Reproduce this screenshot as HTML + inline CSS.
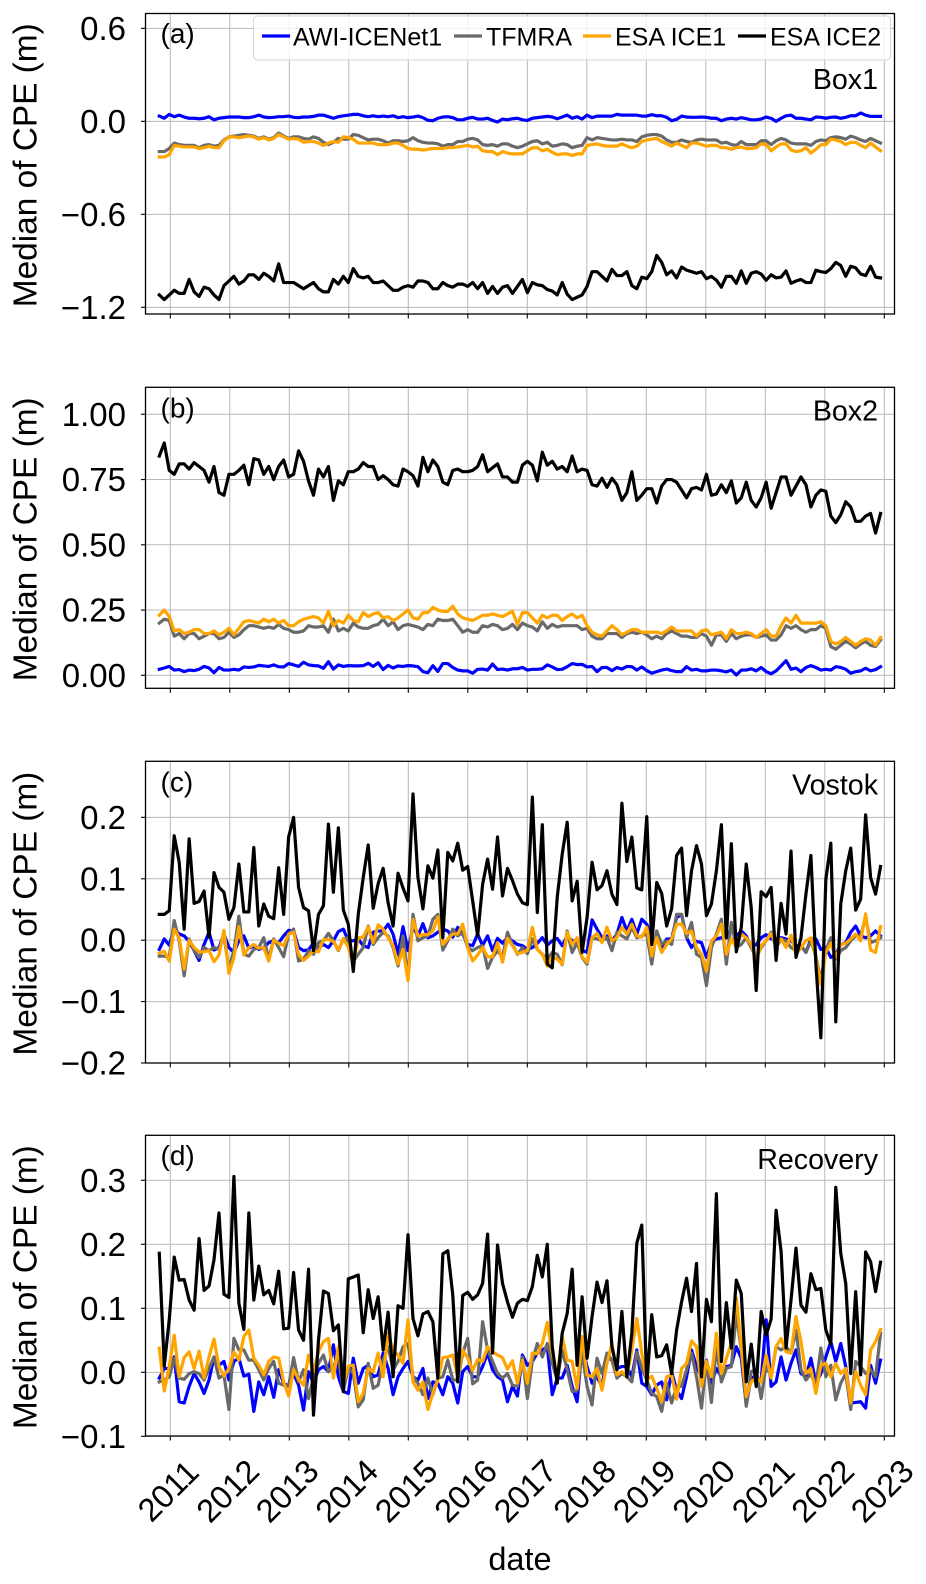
<!DOCTYPE html>
<html lang="en">
<head>
<meta charset="utf-8">
<title>Median of CPE time series</title>
<style>
html,body{margin:0;padding:0;background:#fff;}
svg{display:block;font-family:"Liberation Sans",Arial,sans-serif;}
</style>
</head>
<body>
<svg id="chart" xmlns="http://www.w3.org/2000/svg" width="926" height="1584" viewBox="0 0 926 1584">
<rect x="0" y="0" width="926" height="1584" fill="#fff"/>
<text x="520" y="1570" font-size="32.5" text-anchor="middle" fill="#000">date</text>
</svg>
<script>
const xTickYears = [2011,2012,2013,2014,2015,2016,2017,2018,2019,2020,2021,2022,2023];
const xTickLabels = ['2011','2012','2013','2014','2015','2016','2017','2018','2019','2020','2021','2022','2023'];
const firstSampleYear = 2010.815;
const sampleStepYears = 0.0836;
const seriesNames = ['AWI-ICENet1','TFMRA','ESA ICE1','ESA ICE2'];

const yTicksA = [0.6,0,-0.6,-1.2];
const yLabelsA = ['0.6','0.0','\u22120.6','\u22121.2'];
const yTicksB = [1,0.75,0.5,0.25,0];
const yLabelsB = ['1.00','0.75','0.50','0.25','0.00'];
const yTicksC = [0.2,0.1,0,-0.1,-0.2];
const yLabelsC = ['0.2','0.1','0.0','\u22120.1','\u22120.2'];
const yTicksD = [0.3,0.2,0.1,0,-0.1];
const yLabelsD = ['0.3','0.2','0.1','0.0','\u22120.1'];

const box1Awi = [
.034,.02,.045,.03,.04,.028,.02,.02,.017,.02,
.03,.01,.02,.024,.028,.028,.028,.024,.024,.03,
.04,.028,.024,.026,.03,.03,.034,.026,.024,.028,
.028,.032,.04,.04,.03,.02,.03,.036,.04,.045,
.045,.036,.03,.036,.03,.034,.03,.036,.024,.03,
.024,.028,.034,.024,.007,.004,.02,.028,.03,.024,.01,
.01,.02,.026,.015,.015,.02,.006,-.004,.015,.01,
.017,.02,.01,.006,.02,.024,.028,.032,.028,.017,
.028,.04,.02,.03,.015,.04,.024,.034,.034,.034,
.034,.045,.04,.04,.04,.04,.034,.034,.043,.036,
.036,.026,.004,.013,.034,.028,.026,.026,.028,.026,
.02,.02,.004,.015,.02,.015,.024,.017,.01,.01,
.015,.028,.02,0,.02,.036,.04,.02,.02,.015,
.01,.028,.026,.02,.026,.028,.02,.026,.036,.036,
.054,.04,.032,.032,.032];
const box1Tfmra = [
-.195,-.195,-.175,-.14,-.15,-.155,-.155,-.155,-.17,-.155,
-.15,-.16,-.155,-.12,-.10,-.095,-.09,-.085,-.09,-.095,
-.11,-.10,-.115,-.105,-.075,-.095,-.11,-.10,-.10,-.11,
-.115,-.10,-.11,-.135,-.15,-.135,-.11,-.115,-.115,-.085,
-.09,-.105,-.12,-.115,-.115,-.125,-.14,-.125,-.125,-.13,
-.125,-.105,-.125,-.135,-.14,-.14,-.145,-.16,-.15,-.15,-.13,
-.13,-.115,-.11,-.12,-.15,-.155,-.15,-.16,-.145,-.145,
-.16,-.17,-.16,-.145,-.13,-.125,-.145,-.135,-.16,-.155,
-.145,-.15,-.17,-.16,-.155,-.105,-.12,-.105,-.11,-.115,
-.12,-.12,-.115,-.12,-.12,-.13,-.10,-.09,-.085,-.085,
-.095,-.12,-.135,-.135,-.12,-.13,-.135,-.12,-.115,-.12,
-.12,-.12,-.14,-.135,-.15,-.155,-.13,-.15,-.15,-.15,
-.125,-.125,-.15,-.125,-.11,-.12,-.14,-.145,-.145,-.145,
-.155,-.13,-.12,-.125,-.105,-.10,-.105,-.115,-.095,-.105,
-.12,-.13,-.11,-.125,-.14];
const box1Ice1 = [
-.23,-.23,-.215,-.155,-.16,-.165,-.165,-.165,-.175,-.17,
-.16,-.17,-.17,-.125,-.10,-.10,-.105,-.10,-.095,-.10,
-.115,-.105,-.12,-.11,-.085,-.10,-.115,-.11,-.115,-.135,
-.13,-.13,-.14,-.155,-.14,-.13,-.135,-.10,-.105,-.115,
-.14,-.14,-.14,-.14,-.15,-.15,-.15,-.14,-.14,-.155,
-.175,-.18,-.18,-.185,-.18,-.175,-.175,-.175,-.17,-.17,-.165,
-.16,-.155,-.165,-.16,-.19,-.195,-.195,-.215,-.195,-.205,
-.21,-.21,-.21,-.19,-.17,-.17,-.19,-.18,-.20,-.215,
-.21,-.21,-.22,-.21,-.21,-.155,-.15,-.145,-.155,-.16,
-.16,-.16,-.145,-.16,-.17,-.16,-.13,-.12,-.115,-.11,
-.13,-.145,-.16,-.14,-.155,-.17,-.14,-.14,-.15,-.16,
-.155,-.155,-.17,-.17,-.18,-.17,-.165,-.175,-.175,-.17,
-.145,-.15,-.19,-.165,-.145,-.145,-.185,-.195,-.19,-.17,
-.205,-.18,-.15,-.15,-.115,-.12,-.13,-.15,-.135,-.135,
-.155,-.17,-.14,-.165,-.19];
const box1Ice2 = [
-1.12,-1.15,-1.12,-1.09,-1.11,-1.11,-1.02,-1.10,-1.13,-1.07,
-1.08,-1.12,-1.15,-1.06,-1.03,-1.00,-1.05,-1.03,-.99,-.99,
-1.02,-.98,-1.00,-1.03,-.92,-1.04,-1.04,-1.04,-1.06,-1.08,
-1.06,-1.04,-1.08,-1.10,-1.10,-1.02,-1.05,-1.00,-1.04,-.95,
-1.00,-1.01,-1.00,-1.04,-1.04,-1.03,-1.06,-1.09,-1.09,-1.07,
-1.06,-1.07,-1.03,-1.03,-1.04,-1.08,-1.08,-1.04,-1.06,-1.07,-1.05,
-1.05,-1.065,-1.04,-1.08,-1.04,-1.11,-1.065,-1.11,-1.07,-1.06,
-1.11,-1.065,-1.02,-1.105,-1.04,-1.055,-1.06,-1.085,-1.095,-1.12,
-1.04,-1.115,-1.15,-1.135,-1.12,-1.065,-.97,-.97,-1.0,-1.03,
-.955,-.995,-.995,-.97,-1.06,-1.08,-1.005,-1.015,-.97,-.865,
-.91,-.99,-.965,-1.01,-.94,-.96,-.97,-.98,-.97,-1.015,
-1.0,-1.025,-1.07,-1.0,-1.0,-1.045,-.965,-1.045,-.98,-.97,
-.985,-1.025,-.99,-1.01,-1.005,-.965,-1.045,-1.03,-1.02,-1.04,
-1.04,-.96,-.97,-.975,-.95,-.91,-.93,-1.0,-.935,-.945,
-.985,-.995,-.935,-1.005,-1.01];

const box2Awi = [
.023,.028,.034,.02,.022,.014,.02,.018,.023,.034,
.028,.01,.03,.02,.02,.023,.02,.032,.03,.032,
.038,.036,.034,.04,.033,.032,.045,.04,.034,.05,
.04,.037,.036,.027,.052,.024,.04,.034,.037,.036,
.036,.037,.046,.034,.048,.022,.038,.028,.036,.034,
.037,.036,.033,.014,.01,.037,.015,.045,.045,.03,
.02,.017,.017,.008,.023,.024,.02,.043,.022,.024,
.02,.025,.025,.03,.02,.023,.023,.025,.04,.032,
.022,.023,.033,.045,.041,.042,.032,.034,.014,.03,
.03,.018,.03,.024,.034,.033,.02,.032,.018,.008,
.014,.02,.024,.018,.014,.014,.033,.02,.023,.017,
.017,.02,.02,.017,.013,.02,.001,.02,.02,.025,
.017,.03,.014,.006,.017,.036,.056,.023,.028,.014,
.03,.037,.03,.02,.023,.02,.033,.03,.023,.008,
.014,.017,.027,.017,.022,.033];
const box2Tfmra = [
.20,.215,.21,.15,.16,.14,.16,.16,.14,.15,
.16,.16,.14,.145,.165,.145,.155,.175,.19,.19,
.185,.18,.185,.18,.195,.18,.175,.165,.165,.17,
.19,.185,.185,.19,.165,.215,.17,.18,.17,.20,
.185,.18,.18,.19,.195,.215,.19,.205,.175,.19,
.195,.19,.185,.175,.195,.19,.215,.21,.21,.215,
.19,.165,.175,.165,.165,.19,.185,.195,.19,.175,
.18,.195,.175,.20,.19,
.185,.17,.205,.18,.195,.185,.19,.19,.19,.19,.175,
.18,.15,.14,.14,.16,.16,.16,.145,.16,.165,
.16,.165,.155,.14,.15,.14,.16,.17,.16,.15,
.15,.145,.145,.16,.15,.115,.155,.155,.13,.16,
.14,.15,.155,.155,.145,.15,.155,.135,.135,.155,
.19,.18,.19,.175,.165,.175,.175,.19,.18,.11,
.10,.115,.13,.12,.105,.12,.13,.115,.11,.135];
const box2Ice1 = [
.23,.25,.225,.17,.175,.16,.165,.175,.175,.16,
.16,.17,.155,.165,.18,.155,.18,.205,.21,.205,
.20,.215,.205,.215,.20,.21,.19,.19,.205,.215,
.22,.225,.22,.20,.245,.19,.21,.20,.23,.21,
.205,.24,.225,.235,.24,.22,.225,.21,.22,.235,
.25,.22,.215,.24,.24,.26,.25,.245,.245,.265,
.235,.22,.215,.21,.22,.23,.23,.235,.23,.225,
.235,.245,.195,.24,.24,.22,.20,.23,.22,.23,
.23,.21,.225,.235,.22,.23,.19,.165,.155,.15,
.17,.19,.175,.155,.165,.175,.175,.165,.165,.165,
.165,.16,.17,.185,.17,.17,.17,.17,.15,.17,
.175,.155,.16,.165,.14,.175,.16,.16,.165,.16,
.145,.16,.175,.15,.15,.19,.22,.20,.23,.20,
.20,.20,.20,.205,.19,.13,.12,.13,.145,.13,
.115,.13,.14,.135,.115,.145];
const box2Ice2 = [
.84,.89,.785,.77,.81,.81,.79,.815,.80,.785,
.74,.80,.70,.69,.77,.77,.785,.805,.73,.83,
.825,.77,.80,.75,.80,.825,.76,.77,.86,.82,
.745,.69,.79,.76,.80,.67,.745,.73,.78,.78,
.79,.815,.80,.80,.75,.765,.75,.73,.725,.79,
.78,.765,.725,.835,.78,.825,.80,.74,.73,.785,
.79,.78,.78,.785,.80,.845,.78,.795,.81,.76,
.76,.74,.74,.805,.82,
.805,.745,.855,.805,.82,.79,.80,.78,.84,.78,
.79,.785,.73,.725,.755,.72,.755,.73,.67,.70,
.78,.67,.69,.715,.715,.66,.725,.75,.75,.74,
.71,.68,.715,.72,.71,.77,.69,.695,.73,.70,
.745,.66,.68,.74,.67,.645,.68,.74,.64,.70,
.76,.76,.69,.725,.76,.73,.645,.69,.71,.705,
.61,.585,.615,.665,.645,.59,.59,.61,.62,.545,.62];

const vostokAwi = [
-.015,.002,-.008,.018,.01,.007,-.002,-.017,-.033,-.007,
.013,-.016,-.012,.01,-.012,-.02,-.001,.007,-.013,-.009,
-.015,-.012,-.004,-.001,-.004,.007,.016,.015,-.012,-.017,
-.016,-.004,-.012,-.007,-.012,-.001,.014,.018,-.001,-.001,
.002,-.009,-.012,.013,.015,.015,.026,.01,-.023,.022,
-.017,.021,.007,.027,.004,.007,.013,.018,.015,.005,
.021,.01,-.007,-.009,.01,-.009,.007,-.017,.003,-.005,
.004,-.001,-.007,-.009,-.015,
-.012,-.005,.004,-.008,-.001,.003,-.009,.007,-.001,-.001,
-.016,-.02,.033,.018,.004,.007,-.001,.01,.037,.015,
.034,.01,.034,.026,.004,-.001,-.012,.002,.002,.037,
.042,.004,-.012,-.002,-.004,-.028,-.004,.002,.004,.004,
.018,.007,.015,.007,-.012,-.007,.004,.009,.002,.002,
.004,.002,-.001,-.009,-.009,-.02,.002,.002,-.015,-.012,
-.028,-.023,-.007,-.004,.013,.023,.007,.004,.007,.015,.007];
const vostokTfmra = [
-.026,-.026,-.028,.032,-.001,-.058,.002,-.017,-.028,-.012,
-.017,-.012,-.015,.007,-.047,-.017,.039,-.023,-.026,-.015,
-.012,.004,-.031,.002,-.012,-.027,.01,.018,-.034,-.031,
-.017,-.023,-.004,-.001,.011,-.001,-.017,.002,.004,-.034,
-.023,-.012,.023,-.007,.004,.013,.007,-.012,-.042,.007,
-.061,.042,-.001,.004,.007,.034,.042,-.016,-.001,.018,
.007,.013,-.012,-.017,-.012,-.009,-.046,-.028,-.017,-.028,
.013,-.007,-.023,-.012,-.022,
.002,-.015,-.023,-.031,-.02,-.023,-.04,.015,-.02,-.004,
-.028,-.039,.004,.002,-.001,.004,-.017,.013,.007,.002,
.021,.004,.007,.01,-.039,.015,-.007,-.001,-.007,.042,
.042,.004,.029,-.023,-.028,-.074,-.012,.01,.034,-.039,
.029,-.012,-.007,.004,-.012,-.028,-.012,-.001,.013,-.012,
.002,-.001,-.012,-.017,-.009,-.02,-.001,-.026,-.066,-.017,
.004,-.031,-.017,-.012,-.001,.007,.007,.037,-.004,-.001,.004];
const vostokIce1 = [
-.021,-.018,-.034,.018,.004,-.047,0,-.012,-.019,-.019,
-.017,-.035,-.024,.016,-.054,-.028,.022,-.024,-.012,-.007,
-.013,-.012,-.034,0,-.005,-.009,.01,.013,-.023,-.033,
-.026,-.017,-.019,.001,.001,-.002,-.016,.003,-.012,-.039,
.004,.005,.022,-.004,.025,.018,.004,-.009,-.039,-.015,
-.066,.034,.007,.009,.009,.015,.038,-.007,.002,.01,
.01,.026,-.012,-.034,-.024,-.012,-.027,-.027,-.004,-.036,
.003,-.009,-.022,-.02,-.017,
.021,-.015,-.023,-.042,-.027,-.031,-.039,.013,-.007,.004,
-.027,-.036,.004,.011,-.004,.021,-.001,.004,.021,.01,
.026,.007,.005,.021,-.026,.004,-.02,-.007,.002,.026,
.026,.011,.015,-.012,-.023,-.05,-.001,.007,.026,-.023,
.002,-.012,.01,.004,-.007,-.031,-.009,-.001,.011,-.007,
.002,-.012,.008,-.023,-.012,-.001,.004,-.028,-.072,-.02,
-.005,-.028,-.007,-.005,.002,.01,-.001,.043,-.016,-.02,.022];
const vostokIce2 = [
.042,.042,.048,.17,.127,.018,.165,.06,.063,.08,
.005,.11,.086,.078,.034,.053,.124,.046,.046,.151,
.023,.059,.039,.035,.118,.042,.168,.20,.086,.053,
.048,-.017,.042,.056,.189,.078,.183,.049,.026,-.051,
.042,.102,.155,.052,.092,.117,.061,.023,.109,.085,
.064,.238,.102,.051,.121,.101,.147,.004,.143,.129,
.158,.114,.12,.064,.007,.091,.132,.083,.168,.072,
.117,.097,.075,.061,.058,
.233,.045,.188,-.039,-.045,
.07,.14,.192,.064,.096,-.02,.037,.127,.082,.089,
.113,.075,.058,.223,.128,.168,.085,.082,.201,-.007,
.094,.076,.023,.051,.138,.15,.04,.113,.154,.124,
.04,.059,.113,.188,.004,.157,-.019,.021,.124,.053,
-.082,.079,.071,.086,-.033,.06,.01,.145,-.028,.004,
.075,.138,-.039,-.159,.099,.158,-.133,.059,.113,.15,
.049,.067,.204,.102,.075,.12];

const recoveryAwi = [
-.009,.006,.006,.024,-.046,-.048,-.022,-.002,-.015,-.033,
-.012,.024,.011,.017,-.012,.017,.022,-.006,-.003,-.061,
-.015,-.035,-.007,-.039,.004,-.017,-.022,-.002,-.02,-.059,
.001,-.017,.004,.009,.001,.043,-.007,-.03,-.033,.022,
-.017,.006,.011,-.007,-.004,.03,.006,-.035,-.007,.006,
.017,-.007,-.012,.006,-.041,-.015,-.017,-.035,-.007,-.017,
-.048,.001,.009,-.007,-.007,.009,.03,.004,-.007,-.012,
-.046,-.022,-.037,.027,.011,
.017,.03,.035,.04,-.035,-.009,-.009,.011,-.022,-.046,
.04,.009,-.017,-.007,-.022,.024,.019,.006,.009,.009,
-.007,.035,-.017,-.022,-.035,-.02,-.015,-.043,.001,-.028,
-.041,-.007,.035,.009,-.007,.019,-.017,.006,-.007,.009,
.011,.04,.022,-.051,-.007,-.012,-.012,.082,-.022,-.015,
.024,-.012,.014,.035,-.002,-.007,.022,-.017,-.002,.024,
.048,.017,.045,.009,-.048,-.047,-.046,-.056,.011,-.017,.019];
const recoveryTfmra = [
-.015,-.012,-.007,.022,-.009,-.011,-.002,.001,-.002,-.012,
.006,.024,-.009,-.004,-.058,.053,.035,.035,.019,.019,
.004,-.012,.006,.017,-.017,-.02,-.022,.023,-.015,.004,
-.041,-.007,.014,.027,.001,.009,.024,-.03,.009,-.002,
-.054,-.043,.014,-.025,-.02,.019,.04,.004,.017,.04,
.045,-.007,-.017,-.035,-.009,-.035,-.009,-.007,.019,-.012,
-.012,.03,.053,-.018,-.012,.079,.035,.017,-.002,-.009,
-.002,-.02,-.022,.024,-.041,
.019,.045,.024,.045,.014,-.012,.035,.004,-.03,-.028,
.03,-.022,-.051,.022,-.002,.03,.019,-.009,-.002,-.007,
-.015,.032,.006,-.012,-.033,-.038,-.061,-.017,-.048,-.022,
-.022,.004,.03,-.007,-.056,.019,-.047,.04,-.015,.006,
.009,.092,.035,-.053,.001,.004,-.041,.011,-.007,.04,
.035,.04,.03,.066,.004,-.012,-.002,-.022,.038,-.007,
.011,-.043,-.017,-.002,-.058,.017,.009,-.002,.004,-.007,.061];
const recoveryIce1 = [
.038,-.029,.009,.058,-.007,.023,.032,.006,.033,-.009,
.024,.052,.009,-.006,.006,.032,.019,.056,.066,.022,
.011,-.004,.017,.024,.022,-.015,-.037,.004,-.011,-.02,
.027,.001,.032,.048,.053,-.009,.04,-.017,.01,.011,
-.046,-.033,.006,.001,.03,-.007,.061,.035,.027,.014,
.082,-.015,-.028,-.015,-.058,-.033,-.012,.023,.024,.027,
-.007,.035,.022,.003,.02,.017,.04,.032,.027,.023,
.005,.018,-.017,.019,-.017,
.03,.029,.045,.078,.03,-.007,.056,.019,.017,-.025,
.056,-.004,-.007,.006,-.028,.014,.045,-.004,.001,-.007,
.035,.084,.03,-.012,-.006,-.025,-.046,-.007,-.004,-.042,
.006,.014,.049,.04,-.022,.017,-.007,.061,-.002,.022,
.045,.116,.04,-.038,-.015,-.008,-.015,.027,-.009,.04,
.053,.032,.03,.087,.048,-.002,.006,-.033,.011,.014,
-.007,.014,-.002,.006,-.048,.001,-.02,-.035,.035,.048,.067];
const recoveryIce2 = [
.186,.01,.082,.18,.144,.145,.113,.097,.209,.128,
.135,.176,.249,.122,.117,.306,.108,.067,.249,.113,
.166,.121,.128,.107,.158,.068,.069,.156,.066,.05,
.161,-.067,.05,.127,.123,.065,.074,-.03,.146,.149,
.152,.062,.129,.084,.118,.035,.094,-.007,.104,.10,
.215,.084,.057,.091,.095,.079,-.009,.185,.19,.121,
-.015,.12,.125,.114,.121,.139,.216,.03,.199,.139,
.11,.086,.108,.114,.112,
.134,.183,.149,.20,.04,-.017,.061,.092,.161,.011,
.118,.022,.087,.141,.109,.143,.04,.004,.095,-.007,
.061,.202,.23,-.02,.09,.024,.026,.043,-.002,.066,
.11,.147,.095,.17,-.007,.114,.079,.279,.017,.109,
.038,.144,.123,-.015,.044,-.022,.095,.058,.083,.253,
.189,.038,.113,.194,.105,.094,.154,.129,.131,.066,
.044,.289,.186,.139,-.002,.126,-.004,.188,.173,.126,.172];

const seriesColors = ['#0000ff','#696969','#ffa500','#000000'];
const legendLineStarts = [262,454,583,738];
const legendTextStarts = [293,486,615,770];

const panels = [
  {id:'a',letter:'(a)',name:'Box1',top:13.5,bottom:314,yMax:.696,yMin:-1.243,ticks:yTicksA,labels:yLabelsA,series:[box1Awi,box1Tfmra,box1Ice1,box1Ice2],letterY:43,nameY:89},
  {id:'b',letter:'(b)',name:'Box2',top:387.3,bottom:688.3,yMax:1.1034,yMin:-.0498,ticks:yTicksB,labels:yLabelsB,series:[box2Awi,box2Tfmra,box2Ice1,box2Ice2],letterY:417.7,nameY:420.7},
  {id:'c',letter:'(c)',name:'Vostok',top:761.3,bottom:1063,yMax:.2913,yMin:-.2,ticks:yTicksC,labels:yLabelsC,series:[vostokAwi,vostokTfmra,vostokIce1,vostokIce2],letterY:791.7,nameY:794.3},
  {id:'d',letter:'(d)',name:'Recovery',top:1135.3,bottom:1436,yMax:.3703,yMin:-.0995,ticks:yTicksD,labels:yLabelsD,series:[recoveryAwi,recoveryTfmra,recoveryIce1,recoveryIce2],letterY:1165,nameY:1169}
];

const AXIS_LEFT = 145.5, AXIS_RIGHT = 894.5;
const svg = document.getElementById('chart');
const NS = 'http://www.w3.org/2000/svg';

function xAxis(year){ return 170.3 + (year - 2011) * 59.5; }
function yAxis(panel, v){ return panel.top + (panel.yMax - v) / (panel.yMax - panel.yMin) * (panel.bottom - panel.top); }

function make(tag, attrs, parent){
  const el = document.createElementNS(NS, tag);
  for (const k in attrs) el.setAttribute(k, attrs[k]);
  (parent || svg).appendChild(el);
  return el;
}

panels.forEach(function(p){
  const g = make('g', {});
  
  

  xTickYears.forEach(function(yr){
    const gx = make('line', {x1:xAxis(yr),x2:xAxis(yr),y1:p.top,y2:p.bottom,stroke:'#b8b8b8','stroke-width':1}, g);
    
    
    const tx = make('line', {x1:xAxis(yr),x2:xAxis(yr),y1:p.bottom,y2:p.bottom+4.5,stroke:'#000','stroke-width':1.1}, g);
    
    
  });

  p.ticks.forEach(function(v, i){
    const y = yAxis(p, v);
    const gy = make('line', {x1:AXIS_LEFT,x2:AXIS_RIGHT,y1:y,y2:y,stroke:'#b8b8b8','stroke-width':1}, g);
    
    
    const ty = make('line', {x1:AXIS_LEFT-4.5,x2:AXIS_LEFT,y1:y,y2:y,stroke:'#000','stroke-width':1.1}, g);
    
    
    const lab = make('text', {x:126,y:y+11.5,'font-size':33,'text-anchor':'end',fill:'#000'}, g);
    lab.textContent = p.labels[i];
    
    
  });

  p.series.forEach(function(values, s){
    const pts = values.map(function(v, i){
      return xAxis(firstSampleYear + i * sampleStepYears).toFixed(2) + ',' + yAxis(p, v).toFixed(2);
    }).join(' ');
    const line = make('polyline', {points:pts,fill:'none',stroke:seriesColors[s],'stroke-width':3.2,'stroke-linejoin':'round','stroke-linecap':'square'}, g);
    
    
  });

  const frame = make('rect', {x:AXIS_LEFT,y:p.top,width:AXIS_RIGHT-AXIS_LEFT,height:p.bottom-p.top,fill:'none',stroke:'#000','stroke-width':1.3}, g);
  
  

  const yt = make('text', {x:0,y:0,'font-size':33.4,'text-anchor':'middle',fill:'#000',transform:'translate(36.5,'+((p.top+p.bottom)/2+1.5)+') rotate(-90)'}, g);
  yt.textContent = 'Median of CPE (m)';
  
  

  const let1 = make('text', {x:160.5,y:p.letterY,'font-size':28,fill:'#000'}, g);
  let1.textContent = p.letter;
  
  

  const nm = make('text', {x:878,y:p.nameY,'font-size':28.6,'text-anchor':'end',fill:'#000'}, g);
  nm.textContent = p.name;
  
  
});

xTickYears.forEach(function(yr, i){
  const cx = xAxis(yr) - 2;
  const t = make('text', {x:cx,y:1502,'font-size':32.5,'text-anchor':'middle',fill:'#000',transform:'rotate(-45 '+cx+' 1491)'});
  t.textContent = xTickLabels[i];
  
  
});

const legend = make('g', {});


const legendBox = make('rect', {x:253.5,y:16,width:637,height:44,rx:4,ry:4,fill:'#fff','fill-opacity':.8,stroke:'#d6d6d6','stroke-width':1}, legend);


seriesNames.forEach(function(name, i){
  const ll = make('line', {x1:legendLineStarts[i],x2:legendLineStarts[i]+28,y1:36,y2:36,stroke:seriesColors[i],'stroke-width':3.2}, legend);
  
  
  const lt = make('text', {x:legendTextStarts[i],y:45.5,'font-size':25,fill:'#000'}, legend);
  lt.textContent = name;
  
  
});
</script>
</body>
</html>
